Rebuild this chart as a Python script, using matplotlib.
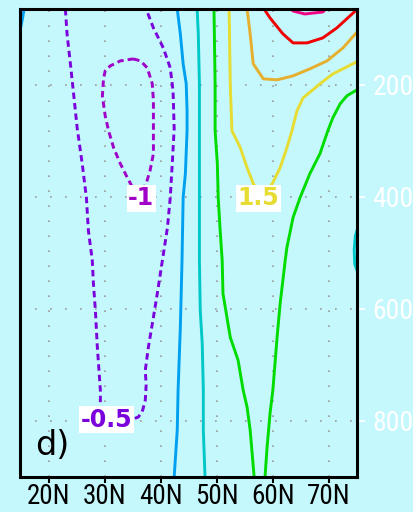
import matplotlib
matplotlib.use('Agg')
import matplotlib.pyplot as plt
from matplotlib import font_manager

# contour paths: (latitude, pressure hPa)
neg05_lat = [23.0, 23.3, 23.9, 24.6, 25.1, 26.0, 26.75, 27.1, 27.8, 28.0, 28.35, 28.7, 29.24, 29.24, 29.8, 31.9,
             34.6, 36.0, 36.7, 37.25, 37.4, 37.25, 37.8, 38.7, 39.4, 40.3, 41.2, 41.7, 42.06, 42.4, 42.2, 41.7,
             40.46, 38.7, 37.4]
neg05_p = [65, 109.5, 162.9, 228.8, 276.9, 340.9, 401.5, 460, 513.6, 554.6, 602.6, 668.5, 745, 768, 789.6, 798.5,
           798.5, 793, 784, 763, 736, 709.5, 668.5, 615, 572, 513.6, 455, 401.5, 340.9, 278.6, 211, 170,
           134.4, 98.8, 65]

neg1_lat = [35.1, 36.4, 37.6, 38.5, 38.7, 38.7, 38.7, 38.1, 37.4, 36.4, 35.5, 34.8, 34.05, 32.8, 31.6, 30.7,
            30.1, 29.6, 29.8, 30.1, 31.0, 32.8, 35.1]
neg1_p = [154, 157.6, 170, 198.5, 228.8, 276.9, 323, 353.4, 376.6, 392.6, 392.6, 380, 366, 340.9, 312.5, 282,
          255.5, 220, 189.6, 175.4, 166.5, 157.6, 154]

zero_lat = [42.95, 43.5, 44.0, 44.55, 44.7, 44.7, 44.4, 44.0, 43.8, 43.5, 43.1, 42.95, 42.4]
zero_p = [65, 109.5, 162.9, 198.5, 246.6, 282.2, 358.7, 401.5, 513.6, 632.9, 745, 816.3, 900]
zero_corner_lat = [15.7, 15.3, 14.9]
zero_corner_p = [62, 85, 105]

pos05_lat = [46.5, 46.7, 46.9, 46.9, 46.9, 47.05, 47.4, 47.6, 47.6, 47.9]
pos05_p = [65, 109.5, 198.5, 282, 513.6, 602.6, 661.4, 745, 816.3, 900]
pos05_edge_lat = [75.3, 74.7, 74.5, 74.6, 75.3]
pos05_edge_p = [450, 470, 495, 520, 540]

pos1a_lat = [49.5, 49.7, 49.7, 50.1, 50.25, 50.6, 50.96, 51.1, 52.4, 53.8, 54.7, 55.4, 55.95, 56.66]
pos1a_p = [65, 198.5, 282, 340.9, 401.5, 460, 513.6, 572.4, 650.7, 691.7, 745, 775.3, 816.3, 900]
pos1b_lat = [75.2, 73.2, 72.0, 70.7, 69.8, 68.4, 66.6, 64.85, 63.6, 62.5, 62.2, 61.3, 60.75, 60.0, 59.5,
             58.97, 58.6]
pos1b_p = [208, 219.9, 234.1, 259, 282.2, 323.1, 358.7, 401.5, 437.1, 490.5, 513.6, 590.2, 650.7, 745, 786,
           846.5, 900]

pos15_lat = [52.2, 52.4, 52.7, 54.2, 55.4, 56.5, 58.1, 59.9, 61.3, 62.5, 63.4, 64.3, 65.4, 68.4, 70.7, 75.2]
pos15_p = [65, 198.5, 282.2, 312.5, 348, 376.6, 397.9, 376.6, 348, 312.5, 282.2, 246.6, 223.4, 198.5, 180.7, 158]

pos2_lat = [55.4, 55.95, 56.5, 58.3, 60.75, 63.6, 66.6, 69.65, 72.5, 75.2]
pos2_p = [65, 109.5, 162.9, 189.6, 191.4, 184.3, 171.8, 157.6, 134.4, 104]

pos25_lat = [58.3, 59.5, 61.8, 63.6, 66.1, 68.9, 71.4, 75.2]
pos25_p = [63, 81, 109.5, 125.5, 125.5, 116.6, 98.8, 64]

pos3_lat = [63.1, 63.6, 65.7, 68.9, 69.65]
pos3_p = [63, 68.6, 73.9, 70.3, 63]

label_text = ['-1', '1.5', '-0.5']
label_lat = [36.5, 57.4, 30.3]
label_p = [403, 403, 798]
label_color = ['#a000c8', '#e6dc32', '#7a00dc']

xticks = [20, 30, 40, 50, 60, 70]
xlabels = ['20N', '30N', '40N', '50N', '60N', '70N']
yticks = [200, 400, 600, 800]

bg = '#c4f8fd'

# a narrow face looks closer to the GrADS labels, if one is installed
names = {f.name for f in font_manager.fontManager.ttflist}
tick_font, xsize, ysize, stretch = 'DejaVu Sans', 16, 19, 'normal'
for cand in ['Liberation Sans Narrow', 'Roboto Condensed', 'Open Sans Condensed', 'DejaVu Sans Condensed']:
    if cand in names:
        tick_font, xsize, ysize = cand, 19.5, 20
        break
else:
    if any(f.name == 'DejaVu Sans' and f.stretch == 'condensed' for f in font_manager.fontManager.ttflist):
        xsize, stretch = 17, 'condensed'

fig = plt.figure(figsize=(4.14, 5.12), dpi=100, facecolor=bg)
ax = fig.add_axes([20.5 / 414, 35 / 512, 336.5 / 414, 468 / 512], facecolor=bg)

solid = [(zero_lat, zero_p, '#00a0f0'), (zero_corner_lat, zero_corner_p, '#00a0f0'),
         (pos05_lat, pos05_p, '#00c8c8'), (pos05_edge_lat, pos05_edge_p, '#00c8c8'),
         (pos1a_lat, pos1a_p, '#00dc00'), (pos1b_lat, pos1b_p, '#00dc00'),
         (pos15_lat, pos15_p, '#e6dc32'), (pos2_lat, pos2_p, '#e6af2d'),
         (pos25_lat, pos25_p, '#f00000'), (pos3_lat, pos3_p, '#f00082')]
for la, pr, c in solid:
    ax.plot(la, pr, color=c, lw=2.1, solid_joinstyle='round')

dashed = [(neg05_lat, neg05_p, '#7a00dc'), (neg1_lat, neg1_p, '#a000c8')]
for la, pr, c in dashed:
    ax.plot(la, pr, color=c, lw=2.1, dashes=(2.2, 1.4))

for t, la, pr, c in zip(label_text, label_lat, label_p, label_color):
    ax.text(la, pr, t, color=c, fontsize=17, fontweight='bold', ha='center', va='center', zorder=4,
            bbox=dict(facecolor='white', edgecolor='none', pad=1.0))

ax.text(0.095, 0.068, 'd)', transform=ax.transAxes, fontsize=24, color='black', ha='center', va='center')

ax.set_xlim(15, 75)
ax.set_ylim(900, 65)
ax.set_xticks(xticks)
ax.set_xticklabels(xlabels, fontfamily=tick_font, fontsize=xsize, fontstretch=stretch)
ax.set_yticks(yticks)
ax.set_yticklabels([str(v) for v in yticks], fontfamily=tick_font, fontsize=ysize, fontstretch=stretch)
ax.yaxis.tick_right()
ax.tick_params(axis='x', colors='black', length=4, width=1.5, pad=0.5)
ax.tick_params(axis='y', colors='white', length=6, width=1.2, pad=5)

ax.set_axisbelow(True)
ax.grid(True, color='#9a9a9a', lw=1.2, linestyle=(0, (1, 8)))
for s in ax.spines.values():
    s.set_linewidth(2.2)
    s.set_color('black')

fig.savefig('out.png', dpi=100, facecolor=bg)
